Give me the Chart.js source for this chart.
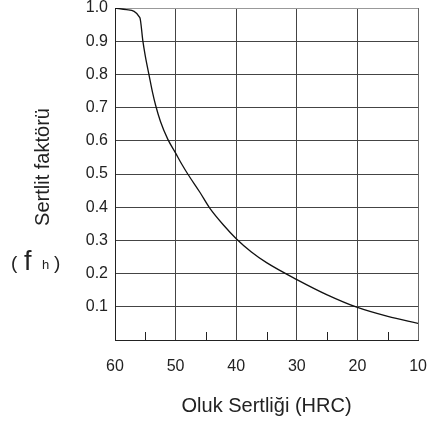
<!DOCTYPE html>
<html>
<head>
<meta charset="utf-8">
<script src="https://cdn.jsdelivr.net/npm/chart.js@4/dist/chart.umd.min.js"></script>
<style>
  html, body { margin: 0; padding: 0; background: #fff; overflow: hidden; }
  #wrap { width: 433px; height: 424px; }
  #chart { display: block; }
</style>
</head>
<body>
<div id="wrap"><canvas id="chart" width="433" height="424"></canvas></div>
<script>
// Oluk sertliği (HRC) vs sertlik faktörü (fh)
const hrc = [60, 58.1, 55.9, 55.4, 55.0, 54.35, 53.8, 53.3, 52.5, 51.3, 50, 49, 48, 46, 44.4, 42, 40, 37.5, 35, 30, 25, 20, 15, 10];
const fh = [1.0, 0.995, 0.971, 0.90, 0.855, 0.795, 0.745, 0.707, 0.658, 0.605, 0.563, 0.53, 0.50, 0.445, 0.398, 0.344, 0.305, 0.265, 0.233, 0.182, 0.136, 0.098, 0.071, 0.05];
const minorTicks = [55, 45, 35, 25, 15];

const xTitle = 'Oluk Sertliği (HRC)';
const yTitle = 'Sertlit faktörü';

const font = 'Arial, "Liberation Sans", sans-serif';
const textColor = '#222';

const extras = {
  id: 'extras',
  afterDraw(chart) {
    const ctx = chart.ctx;
    const x = chart.scales.x;
    const area = chart.chartArea;
    ctx.save();
    // short inner tick marks
    ctx.strokeStyle = '#222';
    ctx.lineWidth = 1;
    minorTicks.forEach(v => {
      const px = Math.round(x.getPixelForValue(v)) + 0.5;
      ctx.beginPath();
      ctx.moveTo(px, area.bottom);
      ctx.lineTo(px, area.bottom - 8);
      ctx.stroke();
    });
    // y title
    ctx.fillStyle = textColor;
    ctx.translate(43, 167);
    ctx.rotate(-Math.PI / 2);
    ctx.textAlign = 'center';
    ctx.textBaseline = 'middle';
    ctx.font = '20px ' + font;
    ctx.fillText(yTitle, 0, 0);
    ctx.restore();
    // ( f h )
    ctx.save();
    ctx.fillStyle = textColor;
    ctx.textBaseline = 'alphabetic';
    ctx.textAlign = 'left';
    ctx.font = '19px ' + font;
    ctx.fillText('(', 11, 269);
    ctx.font = '27px ' + font;
    ctx.fillText('f', 24, 270);
    ctx.font = '13px ' + font;
    ctx.fillText('h', 42, 269);
    ctx.font = '19px ' + font;
    ctx.fillText(')', 54, 269);
    ctx.restore();
  }
};

new Chart(document.getElementById('chart'), {
  type: 'line',
  data: {
    datasets: [{
      data: hrc.map((v, i) => ({ x: v, y: fh[i] })),
      borderColor: '#111',
      borderWidth: 1.3,
      pointRadius: 0,
      fill: false,
      cubicInterpolationMode: 'monotone'
    }]
  },
  options: {
    responsive: false,
    animation: false,
    layout: { padding: 0 },
    plugins: { legend: { display: false }, tooltip: { enabled: false } },
    scales: {
      x: {
        type: 'linear',
        reverse: true,
        min: 10,
        max: 60,
        afterFit: s => { s.height = 84; },
        grid: {
          drawTicks: true,
          tickLength: 11,
          tickColor: 'rgba(0,0,0,0)',
          color: ctx => ctx.tick && ctx.tick.value === 10 ? '#666' : '#444'
        },
        border: { color: '#222' },
        ticks: {
          stepSize: 10,
          padding: 6,
          color: textColor,
          font: { family: font, size: 16 }
        },
        title: {
          display: true,
          text: xTitle,
          color: textColor,
          font: { family: font, size: 20 },
          padding: { top: 0, bottom: 6 }
        }
      },
      y: {
        min: 0,
        max: 1.0,
        afterFit: s => { s.width = 115; },
        grid: {
          drawTicks: false,
          color: ctx => ctx.tick && ctx.tick.value === 1 ? '#999' : '#444'
        },
        border: { color: '#222' },
        ticks: {
          stepSize: 0.1,
          padding: 7,
          color: textColor,
          font: { family: font, size: 16, lineHeight: 0.125 },
          callback: v => v === 0 ? '' : v.toFixed(1)
        }
      }
    }
  },
  plugins: [extras]
});
</script>
</body>
</html>
